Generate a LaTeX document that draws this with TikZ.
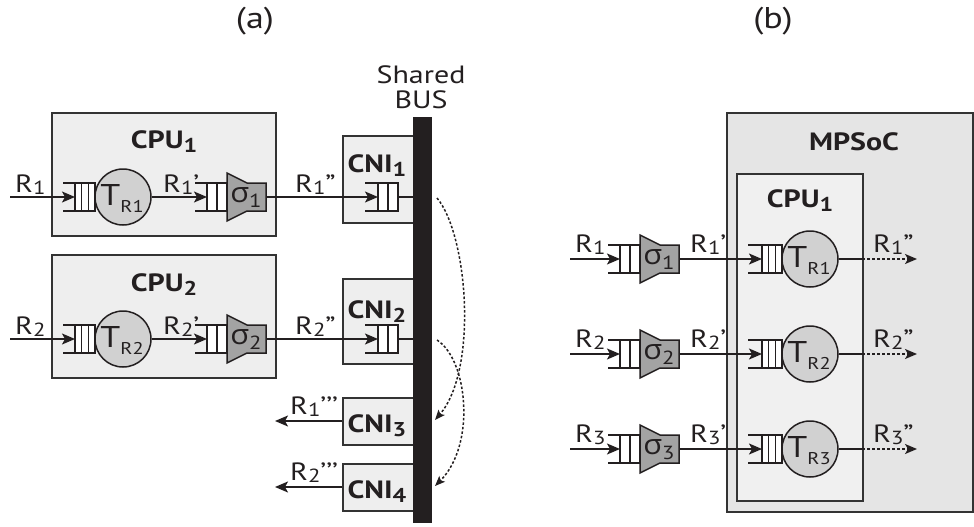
\documentclass[tikz,border=0pt]{standalone}
\usepackage{fontspec}
\setmainfont{PT Sans}[FakeStretch=1.2]
\newfontfamily\grk{Open Sans}[FakeStretch=1.1]
\usetikzlibrary{arrows.meta}

\definecolor{ink}{HTML}{231F20}
\definecolor{boxline}{HTML}{333333}
\definecolor{boxfill}{HTML}{EEEEEE}
\definecolor{socfill}{HTML}{E5E5E5}
\definecolor{cpubfill}{HTML}{F0F0F0}
\definecolor{taskfill}{HTML}{D1D1D1}
\definecolor{sigfill}{HTML}{A3A3A3}

\newcommand{\lblfont}{\fontsize{25}{30}\selectfont}
\newcommand{\hdbig}{\fontsize{30}{36}\selectfont}
\newcommand{\mysub}[1]{\raisebox{-2pt}{\fontsize{19}{19}\selectfont #1}}
\newcommand{\bsub}[1]{\raisebox{-4pt}{\fontsize{20}{20}\selectfont\bfseries #1}}
\newcommand{\tsub}[1]{\raisebox{-7pt}{\fontsize{17}{17}\selectfont #1}}

\tikzset{
  ln/.style={draw=ink, line width=1.6pt},
  arr/.style={ln, -{Stealth[length=13pt,width=11pt,inset=3pt]}},
  darr/.style={ln, dash pattern=on 2.5pt off 2.5pt, -{Stealth[length=12pt,width=10pt,inset=3pt]}},
  carr/.style={draw=ink, line width=1.5pt, dash pattern=on 2.5pt off 2pt, -{Stealth[length=10pt,width=8pt,inset=2pt]}},
  box/.style={draw=boxline, line width=1.8pt, fill=#1, anchor=north west, inner sep=0pt},
  box/.default=boxfill,
  task/.style={circle, draw=ink, line width=1.5pt, fill=taskfill, minimum size=56pt, inner sep=0pt},
  sig/.style={draw=ink, line width=1.5pt, fill=sigfill, line join=miter},
  qline/.style={draw=ink, line width=1.5pt},
  lbl/.style={anchor=base west, inner sep=0pt, font=\lblfont, text=ink},
  hd/.style={anchor=base, inner sep=0pt, font=\lblfont, text=ink},
  bhd/.style={anchor=base, inner sep=0pt, font=\lblfont\bfseries, text=ink},
  tl/.style={anchor=base, inner sep=0pt, font=\fontsize{30}{30}\selectfont, text=ink},
  sl/.style={anchor=base, inner sep=0pt, font=\fontsize{28}{28}\selectfont, text=ink},
}

% queue: name, x0, x1, y, cells
\newcommand{\myqueue}[5]{%
  \draw[qline] (#2,#4-14) -- (#3,#4-14) (#2,#4+14) -- (#3,#4+14);
  \draw[qline, fill=white] (#3-20,#4-14) rectangle (#3,#4+14);
  \foreach \k in {1,...,#5} {\draw[qline] (#3-20+\k*20/#5,#4-14) -- (#3-20+\k*20/#5,#4+14);}
  \coordinate (#1) at (#3-20,#4);
}
% shaper: name, x0, y, index
\newcommand{\mysigma}[4]{%
  \draw[sig] (#2,#3-24) -- (#2+20,#3-14) -- (#2+39,#3-14) -- (#2+39,#3+14) -- (#2+20,#3+14) -- (#2,#3+24) -- cycle;
  \node[sl] (#1-t) at (#2+19,#3+5) {{\grk σ}\raisebox{-5pt}{\fontsize{19}{19}\selectfont #4}};
  \coordinate (#1-in) at (#2,#3);
  \coordinate (#1-out) at (#2+39,#3);
}

\begin{document}
\begin{tikzpicture}[x=1pt,y=-1pt]
\useasboundingbox (0,0) rectangle (974,527);

% ---------------- (a) ----------------
\node[hd, font=\hdbig] (la) at (255,29) {(a)};

\node[box, minimum width=224pt, minimum height=123pt] (cpuA1) at (51,112) {};
\node[box, minimum width=224pt, minimum height=123pt] (cpuA2) at (51,254) {};
\node[box, minimum width=71pt, minimum height=87pt] (cni1) at (342,135) {};
\node[box, minimum width=71pt, minimum height=85pt] (cni2) at (342,278) {};
\node[box, minimum width=71pt, minimum height=47pt] (cni3) at (342,397) {};
\node[box, minimum width=71pt, minimum height=47pt] (cni4) at (342,463) {};

\node[bhd] (cpuA1l) at (164,148) {CPU\bsub{1}};
\node[bhd] (cpuA2l) at (164,291) {CPU\bsub{2}};
\node[bhd] (cni1l) at (377,172) {CNI\bsub{1}};
\node[bhd] (cni2l) at (377,318) {CNI\bsub{2}};
\node[bhd] (cni3l) at (377,432) {CNI\bsub{3}};
\node[bhd] (cni4l) at (377,498) {CNI\bsub{4}};

\node[anchor=north west, fill=ink, minimum width=19pt, minimum height=406pt, inner sep=0pt] (bus) at (413,117) {};
\node[hd] (sharedl) at (421,84) {Shared};
\node[hd] (busl) at (421,108) {BUS};

\foreach \i/\y in {1/197,2/339} {
  \coordinate (ain\i) at (10,\y);
  \myqueue{qa\i}{63}{95}{\y}{3}
  \node[task] (ta\i) at (123,\y) {};
  \node[tl] (tla\i) at (122,\y+8) {T\tsub{R\i}};
  \myqueue{qb\i}{195}{227}{\y}{2}
  \mysigma{sa\i}{227}{\y}{\i}
  \myqueue{qc\i}{365}{398}{\y}{2}
  \coordinate (qcend\i) at (398,\y);
  \coordinate (busin\i) at (413,\y);
  \draw[arr] (ain\i) -- (qa\i);
  \draw[arr] (ta\i.east) -- (qb\i);
  \draw[arr] (sa\i-out) -- (qc\i);
  \draw[ln] (qcend\i) -- (busin\i);
  \node[lbl] (ra\i) at (15,\y-5) {R\mysub{\i}};
  \node[lbl] (rpa\i) at (163,\y-5) {R\mysub{\i}’};
  \node[lbl] (rppa\i) at (295,\y-5) {R\mysub{\i}”};
}

\coordinate (o3) at (275,421);
\coordinate (o4) at (275,487);
\draw[arr] (cni3.west |- o3) -- (o3);
\draw[arr] (cni4.west |- o4) -- (o4);
\node[lbl] (rppp1) at (290,414) {R\mysub{1}’’’};
\node[lbl] (rppp2) at (290,480) {R\mysub{2}’’’};

\coordinate (d1s) at (437,198);
\coordinate (d1e) at (435,420);
\coordinate (d2s) at (437,340);
\coordinate (d2e) at (435,486);
\draw[carr] (d1s) .. controls (468,235) and (478,370) .. (d1e);
\draw[carr] (d2s) .. controls (468,360) and (476,445) .. (d2e);

% ---------------- (b) ----------------
\node[hd, font=\hdbig] (lb) at (773,29) {(b)};
\node[box=socfill, minimum width=246pt, minimum height=399pt] (soc) at (726,112) {};
\node[box=cpubfill, minimum width=126pt, minimum height=327pt] (cpuB) at (736,173) {};
\node[bhd] (socl) at (854,150) {MPSoC};
\node[bhd] (cpuBl) at (800,207) {CPU\bsub{1}};

\foreach \i/\y in {1/259,2/354,3/449} {
  \coordinate (bin\i) at (570,\y);
  \myqueue{qd\i}{608}{640}{\y}{2}
  \mysigma{sb\i}{640}{\y}{\i}
  \myqueue{qe\i}{748}{782}{\y}{3}
  \node[task] (tb\i) at (810,\y) {};
  \node[tl] (tlb\i) at (809,\y+8) {T\tsub{R\i}};
  \coordinate (edge\i) at (862,\y);
  \coordinate (bout\i) at (917,\y);
  \draw[arr] (bin\i) -- (qd\i);
  \draw[arr] (sb\i-out) -- (qe\i);
  \draw[ln] (tb\i.east) -- (edge\i);
  \draw[darr] (edge\i) -- (bout\i);
  \node[lbl] (rb\i) at (575,\y-7) {R\mysub{\i}};
  \node[lbl] (rpb\i) at (690,\y-7) {R\mysub{\i}’};
  \node[lbl] (rppb\i) at (873,\y-7) {R\mysub{\i}”};
}
\end{tikzpicture}
\end{document}
